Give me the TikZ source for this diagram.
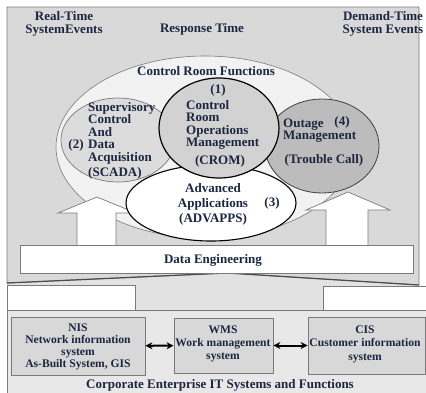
\documentclass[tikz,border=0pt]{standalone}
\usepackage{fontspec}
\setmainfont{Liberation Serif}
\usetikzlibrary{shapes.geometric,arrows.meta}
\definecolor{ink}{HTML}{1C2640}
\definecolor{framegray}{HTML}{D9D9D9}
\definecolor{edgegray}{HTML}{7A7A7A}
\definecolor{crfgray}{HTML}{F2F2F2}
\definecolor{scadagray}{HTML}{DCDCDC}
\definecolor{cromgray}{HTML}{D2D2D2}
\definecolor{outagegray}{HTML}{BCBCBC}
\definecolor{basegray}{HTML}{E8E8E8}
\definecolor{boxgray}{HTML}{D8D8D8}
\definecolor{stemgray}{HTML}{E2E2E2}

\tikzset{
	txt/.style={font=\fontsize{13}{12.5}\selectfont\bfseries,text=ink,inner sep=0,align=center},
	small/.style={font=\fontsize{11.6}{12}\selectfont\bfseries,text=ink,align=center},
	ell/.style={draw,ellipse,inner sep=0},
	itbox/.style={draw=edgegray,fill=boxgray,line width=0.8pt,inner sep=0},
	link/.style={line width=2pt,{Stealth[length=7pt,width=7pt]}-{Stealth[length=7pt,width=7pt]}}
}

\begin{document}
\begin{tikzpicture}[x=1pt,y=-1pt]
	\useasboundingbox (0,0) rectangle (426,392);
	% lower part
	\fill[stemgray] (7,283) -- (227,273) -- (426,286) -- (426,312) -- (7,312) -- cycle;
	\draw[edgegray,fill=white,line width=0.7pt] (7,285) rectangle (135,310);
	\draw[edgegray,fill=white,line width=0.7pt] (323,286) rectangle (432,310);
	\draw[edgegray,fill=basegray,line width=0.7pt] (7,310) rectangle (432,398);
	% upper frame
	\draw[edgegray,fill=framegray,line width=0.8pt] (7,7) -- (419,7) -- (419,285) -- (227,273) -- (7,283) -- cycle;
	\draw[black!70,line width=1.2pt] (7,283) -- (227,273) -- (419,285);
	% control room functions
	\node[ell,draw=edgegray,fill=crfgray,line width=0.6pt,minimum width=298pt,minimum height=182pt] (crf) at (205,147) {};
	% big up arrows
	\draw[edgegray,fill=white,line width=0.7pt] (77,245) -- (77,213) -- (58,213) -- (97,197) -- (136,213) -- (116,213) -- (116,245);
	\draw[edgegray,fill=white,line width=0.7pt] (326,245) -- (326,210) -- (306,210) -- (348,192) -- (390,210) -- (368,210) -- (368,245);
	% functions
	\node[ell,draw=edgegray,fill=scadagray,line width=0.7pt,minimum width=114pt,minimum height=84pt] (scada) at (118,140) {};
	\node[ell,draw=black!75,fill=outagegray,line width=0.8pt,minimum width=114pt,minimum height=94pt] (outage) at (322,146) {};
	\node[ell,draw=black,fill=white,line width=1.1pt,minimum width=170pt,minimum height=76pt] (advapps) at (211,203) {};
	\node[ell,draw=black,fill=cromgray,line width=1.2pt,minimum width=120pt,minimum height=100pt] (crom) at (219,128) {};
	% data engineering
	\node[draw=edgegray,fill=white,line width=0.8pt,minimum width=393pt,minimum height=28pt,inner sep=0] (de) at (216.5,259) {};
	\node[txt] (detxt) at (213,260) {Data Engineering};
	% labels
	\node[txt] (rt) at (64,24) {Real-Time\\SystemEvents};
	\node[txt] (resp) at (202,29) {Response Time};
	\node[txt] (dt) at (383,24) {Demand-Time\\System Events};
	\node[txt] (crftxt) at (206,71) {Control Room Functions};
	\node[txt,align=left,anchor=west] (scadatxt) at (88,141) {Supervisory\\Control\\And\\Data\\Acquisition\\[3pt](SCADA)};
	\node[txt] (n2) at (76,145) {(2)};
	\node[txt] (n1) at (218,90) {(1)};
	\node[txt,align=left,anchor=west] (cromtxt) at (186,125) {Control\\Room\\Operations\\Management};
	\node[txt] (cromabbr) at (220,161) {(CROM)};
	\node[txt,anchor=west] (outtxt) at (283,125) {Outage};
	\node[txt] (n4) at (342,122) {(4)};
	\node[txt,anchor=west] (outtxt2) at (283,137) {Management};
	\node[txt] (trouble) at (324,160) {(Trouble Call)};
	\node[txt,font=\fontsize{13}{15}\selectfont\bfseries] (advtxt) at (213,204) {Advanced\\Applications\\(ADVAPPS)};
	\node[txt] (n3) at (272,203) {(3)};
	% enterprise systems
	\node[itbox,minimum width=134pt,minimum height=58pt] (nis) at (78,346) {};
	\node[small] (nistxt) at (78,347) {NIS\\Network information\\system\\As-Built System, GIS};
	\node[itbox,minimum width=99pt,minimum height=55pt] (wms) at (223.5,345.5) {};
	\node[small,font=\fontsize{11.6}{13}\selectfont\bfseries] (wmstxt) at (223,344) {WMS\\Work management\\system};
	\node[itbox,minimum width=117pt,minimum height=57pt] (cis) at (366.5,345.5) {};
	\node[small,font=\fontsize{11.6}{13.5}\selectfont\bfseries] (cistxt) at (365,344) {CIS\\Customer information\\system};
	\draw[link] (nis) -- (wms);
	\draw[link] (wms) -- (cis);
	\node[txt] (corp) at (220,385) {Corporate Enterprise IT Systems and Functions};
\end{tikzpicture}
\end{document}
